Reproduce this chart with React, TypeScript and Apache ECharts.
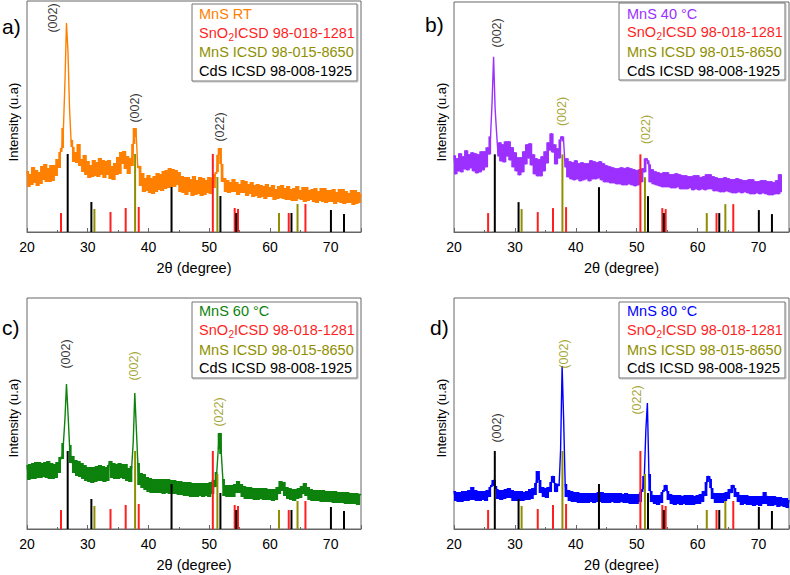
import React, { useEffect, useRef } from "react";
import * as echarts from "echarts";

// ---- data ----
// XRD patterns: noisy band read as alternating upper / lower values,
// sampled every 0.25 degree starting at 20 degree (intensity, a.u.)
const X_START = 20;
const X_STEP = 0.25;

const patternRT = [
  61,45,58,47, 65,49,62,46, 60,48,66,52, 68,50,64,50, 67,51,67,56,
  73,64,80,84, 104,150,209,180, 124,92,85,70, 80,69,88,66, 73,60,77,57,
  71,54,67,55, 72,56,70,55, 74,57,72,54, 71,57,72,53, 66,52,69,57,
  75,58,80,68, 81,63,76,58, 74,66,88,104, 95,64,66,46, 59,40,54,41,
  57,39,54,38, 56,40,59,42, 58,41,61,43, 62,44,64,45, 63,45,62,47,
  60,40,56,39, 55,37,55,40, 53,36,56,37, 52,38,55,36, 54,37,52,39,
  55,38,54,44, 58,60,77,84, 68,50,54,40, 52,39,50,40, 53,40,50,37,
  48,39,52,39, 51,36,48,38, 50,35,47,36, 48,34,47,35, 46,33,48,35,
  45,35,47,32, 43,33,46,34, 47,33,44,32, 46,32,43,31, 44,31,46,33,
  42,32,45,30, 45,31,42,32, 43,30,44,29, 41,31,44,30, 44,29,42,30,
  42,30,43,28, 40,30,43,29, 43,28,41,29, 39,29,42,27, 42,28,40,29,
  38,
];

const pattern40 = [
  77,58,74,61, 79,60,76,63, 82,62,78,64, 80,61,79,59, 78,60,81,62,
  81,65,85,78, 96,130,176,124, 99,76,90,71, 88,70,91,76, 91,72,85,65,
  80,61,75,57, 75,60,81,68, 88,74,89,67, 78,58,74,56, 73,56,76,61,
  81,69,90,82, 99,80,88,68, 84,74,93,96, 91,65,74,55, 71,53,70,52,
  72,53,69,51, 70,52,69,53, 69,51,72,53, 71,53,70,54, 71,52,69,50,
  67,50,66,49, 65,49,64,48, 64,48,65,47, 64,47,65,48, 64,47,63,46,
  62,47,63,50, 64,60,74,72, 68,50,63,48, 61,47,60,46, 59,45,60,45,
  60,45,58,44, 58,44,59,45, 58,43,57,43, 57,43,56,44, 56,42,57,43,
  57,42,55,43, 56,42,58,43, 58,43,56,41, 55,41,54,40, 54,40,55,41,
  54,40,53,39, 53,39,54,40, 53,39,52,40, 52,39,53,38, 53,38,51,39,
  51,38,52,39, 52,38,51,37, 51,37,50,38, 52,38,58,40,
];

const pattern60 = [
  64,49,65,50, 66,50,67,51, 67,51,66,52, 67,51,68,50, 66,50,65,51,
  67,56,72,70, 86,110,145,116, 84,66,73,56, 69,53,68,52, 66,50,64,48,
  62,47,62,46, 62,47,63,48, 64,48,63,47, 62,48,64,68, 51,66,50,65,
  50,66,51,65, 50,65,48,61, 47,63,88,136, 101,66,44,56, 41,55,39,52,
  37,51,36,50, 36,50,36,50, 36,50,35,50, 36,50,35,49, 35,49,35,48,
  34,48,34,47, 33,47,33,47, 32,46,32,46, 32,46,33,46, 32,46,33,46,
  32,47,35,49, 42,57,80,96, 75,50,33,44, 32,44,32,44, 32,45,36,48,
  36,45,32,43, 30,42,30,42, 30,41,29,41, 29,41,30,41, 29,41,29,40,
  29,40,28,40, 29,42,35,48, 38,47,33,42, 30,41,29,40, 28,40,30,41,
  31,43,35,46, 33,42,29,40, 28,39,28,39, 28,39,27,39, 27,38,27,38,
  27,38,26,38, 26,37,26,37, 26,37,25,37, 25,36,25,36, 25,36,24,35,
  34,
];

const pattern80 = [
  38,28,37,27, 37,27,38,28, 38,28,39,29, 42,29,39,28, 38,28,38,29,
  38,28,39,32, 42,44,49,43, 40,30,39,29, 39,30,40,31, 41,31,39,28,
  38,28,38,28, 38,28,37,29, 38,29,40,30, 41,34,46,58, 49,36,42,32,
  41,31,42,37, 47,53,46,37, 45,43,79,163, 110,45,32,39, 28,38,27,37,
  27,37,26,36, 26,36,26,36, 26,36,27,36, 26,36,27,37, 27,37,26,36,
  26,36,26,36, 27,36,26,36, 26,36,27,35, 26,36,26,35, 25,35,25,35,
  25,35,27,37, 40,53,99,126, 55,38,27,34, 25,34,24,34, 26,37,39,44,
  38,29,35,25, 34,24,34,25, 34,24,33,25, 34,24,34,24, 34,24,33,25,
  34,25,35,27, 38,33,47,53, 50,41,30,36, 26,36,26,36, 26,36,28,37,
  30,40,36,44, 41,32,37,27, 34,24,34,25, 34,24,33,24, 33,23,33,24,
  33,23,33,25, 37,25,33,23, 33,23,33,24, 32,22,32,23, 31,22,31,21,
  29,
];

// Reference stick patterns (2theta, relative intensity)
const sno2Pos = [25.6, 33.75, 36.25, 38.4, 50.6, 54.2, 54.75, 63.1, 65.85];
const sno2Int = [19, 20, 24, 25, 78, 24, 23, 19, 28];
const mnsPos = [31.1, 37.8, 51.35, 61.5, 64.55];
const mnsInt = [23, 78, 55, 19, 28];
const cdsPos = [26.7, 30.6, 43.8, 51.85, 54.45, 63.55, 70.05, 72.2];
const cdsInt = [78, 30, 45, 36, 19, 19, 22, 18];

// Peak annotations per panel: [2theta, height, text, phase]
const peaksA: [number, number, string, string][] = [
  [24.25, 214, "(002)", "cds"],
  [37.75, 124, "(002)", "cds"],
  [51.7, 105, "(022)", "cds"],
];
const peaksB: [number, number, string, string][] = [
  [27.0, 200, "(002)", "cds"],
  [37.7, 121, "(002)", "mns"],
  [51.5, 103, "(022)", "mns"],
];
const peaksC: [number, number, string, string][] = [
  [26.4, 175, "(002)", "cds"],
  [37.6, 163, "(002)", "mns"],
  [51.6, 117, "(022)", "mns"],
];
const peaksD: [number, number, string, string][] = [
  [27.1, 101, "(002)", "cds"],
  [38.0, 175, "(002)", "mns"],
  [50.0, 129, "(022)", "mns"],
];

const sampleNames = ["MnS RT", "MnS 40 °C", "MnS 60 °C", "MnS 80 °C"];
const panelLetters = ["a)", "b)", "c)", "d)"];
const xTitle = "2θ (degree)";
const yTitle = "Intensity (u.a)";

// ---- styles / layout ----
const FONT = "'Liberation Sans', Arial, Helvetica, sans-serif";
const RED = "#ff1f1f";
const OLIVE = "#8f8f00";
const BLACK = "#000000";
const FRAME = "#666666";
const sampleColors = ["#ff8000", "#9b30ff", "#0d820d", "#0000ff"];
const Y_MAX = 231;
const NOISE_SPAN = 22; // segments taller than this are peak flanks, drawn by the line only

const grids = [
  { left: 27, top: 1, width: 334, height: 231 },
  { left: 454, top: 2, width: 335, height: 230 },
  { left: 27, top: 298, width: 334, height: 231 },
  { left: 454, top: 298, width: 335, height: 231 },
];

const legendBoxes = [
  { x: 192, y: 4, w: 165, h: 77, tx: 199, ys: [14, 32.5, 52, 70.7] },
  { x: 619, y: 3, w: 166, h: 77, tx: 627, ys: [13.5, 32.3, 52, 70.7] },
  { x: 192, y: 302, w: 165, h: 76, tx: 199, ys: [310.7, 329.5, 350, 368.3] },
  { x: 619, y: 302, w: 166, h: 76, tx: 627, ys: [310.7, 329.5, 350, 368.3] },
];

const letterPos = [
  { x: 2, y: 26 },
  { x: 425, y: 24 },
  { x: 2, y: 327 },
  { x: 430, y: 327 },
];
const yTitlePos = [
  { x: 13, y: 122 },
  { x: 441, y: 122 },
  { x: 13, y: 418 },
  { x: 441, y: 418 },
];

function txt(x: number, y: number, text: string, color: string, size = 14.5) {
  return {
    type: "text",
    x,
    y,
    silent: true,
    style: { text, fill: color, fontSize: size, fontFamily: FONT, align: "left", verticalAlign: "middle" },
  };
}

function legendElements(i: number) {
  const b = legendBoxes[i];
  return [
    {
      type: "rect",
      silent: true,
      shape: { x: b.x + 1, y: b.y + 1, width: b.w, height: b.h },
      style: { fill: "none", stroke: "#c4c4c4", lineWidth: 1 },
    },
    {
      type: "rect",
      silent: true,
      shape: { x: b.x, y: b.y, width: b.w, height: b.h },
      style: { fill: "#ffffff", stroke: "#737373", lineWidth: 1 },
    },
    txt(b.tx, b.ys[0], sampleNames[i], sampleColors[i]),
    txt(b.tx, b.ys[1], "SnO", RED),
    txt(b.tx + 29.6, b.ys[1] + 4.5, "2", RED, 10),
    txt(b.tx + 35, b.ys[1], "ICSD 98-018-1281", RED),
    txt(b.tx, b.ys[2], "MnS ICSD 98-015-8650", OLIVE),
    txt(b.tx, b.ys[3], "CdS ICSD 98-008-1925", BLACK),
  ];
}

function barRender(color: string) {
  return (params: any, api: any) => {
    const x = api.value(0);
    const h = api.value(1);
    const b = api.coord([x, 0]);
    const t = api.coord([x, h]);
    return {
      type: "rect",
      shape: { x: b[0] - 1, y: t[1], width: 2, height: b[1] - t[1] },
      style: { fill: color },
    };
  };
}

// fills the vertical extent of each noise segment so the band reads as solid
// (generous overlap so neighbouring cells leave no anti-aliased seams)
function bandRender(color: string) {
  return (params: any, api: any) => {
    const x0 = api.value(0);
    const x1 = api.value(1);
    const lo = api.value(2);
    const hi = api.value(3);
    const p0 = api.coord([x0, hi]);
    const p1 = api.coord([x1, lo]);
    return {
      type: "rect",
      shape: { x: p0[0] - 0.6, y: p0[1], width: p1[0] - p0[0] + 1.2, height: p1[1] - p0[1] },
      style: { fill: color },
    };
  };
}

function buildOption() {
  const patterns = [patternRT, pattern40, pattern60, pattern80];
  const peaks = [peaksA, peaksB, peaksC, peaksD];
  const refs = [
    { pos: sno2Pos, int: sno2Int, color: RED },
    { pos: mnsPos, int: mnsInt, color: OLIVE },
    { pos: cdsPos, int: cdsInt, color: BLACK },
  ];

  const xAxis: any[] = [];
  const yAxis: any[] = [];
  const series: any[] = [];
  const graphic: any[] = [];

  grids.forEach((g, i) => {
    xAxis.push({
      type: "value",
      gridIndex: i,
      min: 20,
      max: 75,
      interval: 10,
      axisLine: { show: true, lineStyle: { color: FRAME, width: 1 } },
      axisTick: { show: true, inside: true, length: 4, lineStyle: { color: FRAME } },
      minorTick: { show: true, splitNumber: 2, length: 2, lineStyle: { color: FRAME } },
      splitLine: { show: false },
      minorSplitLine: { show: false },
      axisLabel: { color: "#000", fontSize: 14, fontFamily: FONT, margin: 8, showMaxLabel: false },
      name: xTitle,
      nameLocation: "middle",
      nameGap: 28,
      nameTextStyle: { color: "#000", fontSize: 14.5, fontFamily: FONT },
    });
    yAxis.push({
      type: "value",
      gridIndex: i,
      min: 0,
      max: Y_MAX,
      show: false,
      splitLine: { show: false },
    });

    const vals = patterns[i];
    const data = vals.map((v, k) => [X_START + k * X_STEP, v]);
    const band = vals
      .slice(0, -1)
      .map((v, k) => [
        X_START + k * X_STEP,
        X_START + (k + 1) * X_STEP,
        Math.min(v, vals[k + 1]),
        Math.max(v, vals[k + 1]),
      ])
      .filter((s) => s[3] - s[2] <= NOISE_SPAN);

    series.push({
      type: "custom",
      xAxisIndex: i,
      yAxisIndex: i,
      data: band,
      encode: { x: [0, 1], y: [2, 3] },
      renderItem: bandRender(sampleColors[i]),
      silent: true,
      clip: true,
      z: 1,
    });
    series.push({
      type: "line",
      xAxisIndex: i,
      yAxisIndex: i,
      data,
      symbol: "none",
      showSymbol: false,
      silent: true,
      lineStyle: { color: sampleColors[i], width: 1.4 },
      itemStyle: { color: sampleColors[i] },
      z: 2,
    });

    refs.forEach((r) => {
      series.push({
        type: "custom",
        xAxisIndex: i,
        yAxisIndex: i,
        data: r.pos.map((x, k) => [x, r.int[k]]),
        encode: { x: 0, y: 1 },
        renderItem: barRender(r.color),
        silent: true,
        clip: true,
        z: 3,
      });
    });

    series.push({
      type: "scatter",
      xAxisIndex: i,
      yAxisIndex: i,
      symbol: "circle",
      symbolSize: 1,
      silent: true,
      itemStyle: { color: "rgba(0,0,0,0)" },
      data: peaks[i].map((p) => ({
        value: [p[0], p[1]],
        name: p[2],
        label: { color: p[3] === "mns" ? OLIVE : BLACK },
      })),
      label: {
        show: true,
        position: "inside",
        rotate: 90,
        formatter: "{b}",
        fontSize: 12.5,
        fontFamily: FONT,
      },
      z: 4,
    });

    graphic.push({
      type: "text",
      x: letterPos[i].x,
      y: letterPos[i].y,
      silent: true,
      style: { text: panelLetters[i], fill: "#000", fontSize: 21, fontFamily: FONT, align: "left", verticalAlign: "middle" },
    });
    graphic.push({
      type: "text",
      x: yTitlePos[i].x,
      y: yTitlePos[i].y,
      rotation: Math.PI / 2,
      silent: true,
      style: { text: yTitle, fill: "#000", fontSize: 13, fontFamily: FONT, align: "center", verticalAlign: "middle" },
    });
    legendElements(i).forEach((e) => graphic.push(e));
  });

  return {
    animation: false,
    backgroundColor: "#ffffff",
    grid: grids.map((g) => ({ ...g, show: true, borderColor: FRAME, borderWidth: 1, backgroundColor: "transparent", containLabel: false })),
    xAxis,
    yAxis,
    series,
    graphic,
  };
}

export default function App() {
  const ref = useRef<HTMLDivElement>(null);
  useEffect(() => {
    document.body.style.margin = "0";
    if (!ref.current) return;
    const chart = echarts.init(ref.current, null, { renderer: "svg" });
    chart.setOption(buildOption() as any);
    return () => {
      chart.dispose();
    };
  }, []);
  return <div ref={ref} style={{ width: 790, height: 575 }} />;
}
